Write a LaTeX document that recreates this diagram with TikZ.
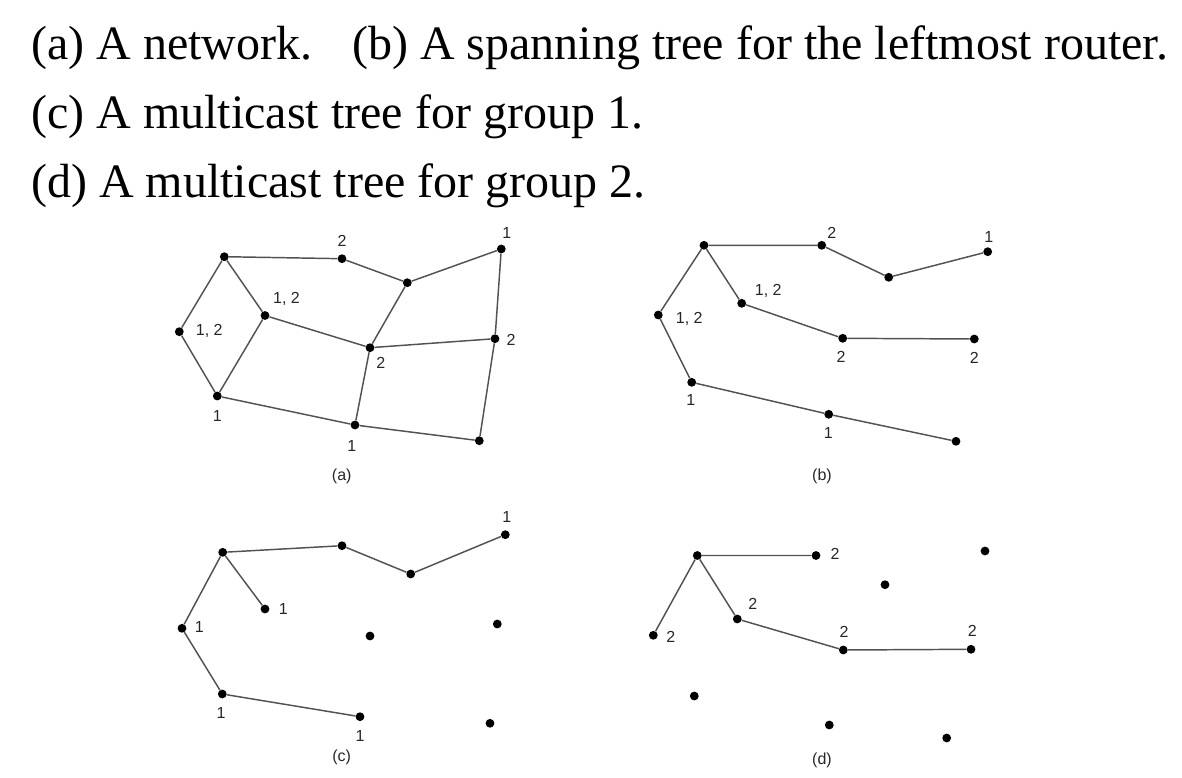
\documentclass[tikz,border=0pt]{standalone}
\usepackage{fontspec}
\setmainfont{Liberation Serif}
\newfontfamily\labfont{Liberation Sans}
\begin{document}
\begin{tikzpicture}[x=0.75pt,y=-0.75pt,
  dot/.style={circle,fill=black,inner sep=0pt,minimum size=6.6pt},
  edge/.style={draw=black!68,line width=1.1pt},
  lab/.style={font=\labfont\fontsize{12}{14}\selectfont,inner sep=0pt,text depth=0pt,text=black!85},
  sublab/.style={font=\labfont\fontsize{12}{14}\selectfont,inner sep=0pt,text=black!85},
  titletext/.style={font=\fontsize{36}{40}\selectfont,inner sep=0pt,anchor=base west}]
\useasboundingbox (0,0) rectangle (1182,778);
% titles
\node[titletext] (t1) at (31,59.5) {(a) A network.};
\node[titletext] (t2) at (352,59.5) {(b) A spanning tree for the leftmost router.};
\node[titletext] (t3) at (31,128.5) {(c) A multicast tree for group 1.};
\node[titletext] (t4) at (31,197) {(d) A multicast tree for group 2.};
% panel (a)
\node[dot] (aA) at (179.3,331.7) {};
\node[dot] (aB) at (224.3,256.7) {};
\node[dot] (aC) at (265,315.5) {};
\node[dot] (aD) at (217.3,396) {};
\node[dot] (aE) at (342,258.7) {};
\node[dot] (aF) at (407.3,282.7) {};
\node[dot] (aG) at (501.3,249) {};
\node[dot] (aH) at (370,347.7) {};
\node[dot] (aI) at (495,338.7) {};
\node[dot] (aJ) at (355,425) {};
\node[dot] (aK) at (479.3,440.7) {};
\draw[edge] (aA)--(aB) (aA)--(aD) (aB)--(aE) (aB)--(aC) (aC)--(aD) (aC)--(aH)
  (aE)--(aF) (aF)--(aG) (aF)--(aH) (aG)--(aI) (aH)--(aI) (aH)--(aJ) (aD)--(aJ)
  (aJ)--(aK) (aI)--(aK);
\node[lab] (la1) at (342,240.7) {2};
\node[lab] (la2) at (506.7,232.7) {1};
\node[lab] (la3) at (286.5,297.5) {1, 2};
\node[lab] (la4) at (209.3,330) {1, 2};
\node[lab] (la5) at (511,340) {2};
\node[lab] (la6) at (380.7,363.3) {2};
\node[lab] (la7) at (217.3,416) {1};
\node[lab] (la8) at (351.7,446) {1};
\node[sublab] (ca) at (341.7,476.7) {(a)};
% panel (b)
\node[dot] (bA) at (658.3,315) {};
\node[dot] (bB) at (704,245.3) {};
\node[dot] (bC) at (741.7,303.3) {};
\node[dot] (bD) at (691.7,382.3) {};
\node[dot] (bE) at (821.7,245.3) {};
\node[dot] (bF) at (888.7,277.3) {};
\node[dot] (bG) at (987.7,251.7) {};
\node[dot] (bH) at (842.7,338.3) {};
\node[dot] (bI) at (974.3,339) {};
\node[dot] (bJ) at (828.7,414.3) {};
\node[dot] (bK) at (956,441.3) {};
\draw[edge] (bA)--(bB) (bA)--(bD) (bB)--(bE) (bE)--(bF) (bF)--(bG) (bB)--(bC)
  (bC)--(bH) (bH)--(bI) (bD)--(bJ) (bJ)--(bK);
\node[lab] (lb1) at (831.7,232.7) {2};
\node[lab] (lb2) at (988.7,236.7) {1};
\node[lab] (lb3) at (768.3,290) {1, 2};
\node[lab] (lb4) at (689.3,317.7) {1, 2};
\node[lab] (lb5) at (841,356.7) {2};
\node[lab] (lb6) at (974.3,357.7) {2};
\node[lab] (lb7) at (690.7,400) {1};
\node[lab] (lb8) at (828.3,433.3) {1};
\node[sublab] (cb) at (822,476) {(b)};
% panel (c)
\node[dot] (cA) at (182,628.3) {};
\node[dot] (cB) at (222.7,552.3) {};
\node[dot] (cC) at (265,609) {};
\node[dot] (cD) at (222.3,694) {};
\node[dot] (cE) at (342,545.7) {};
\node[dot] (cF) at (410.7,574) {};
\node[dot] (cG) at (505.3,534.7) {};
\node[dot] (cH) at (370,636) {};
\node[dot] (cI) at (497.3,624) {};
\node[dot] (cJ) at (360,716.7) {};
\node[dot] (cK) at (490,723.3) {};
\draw[edge] (cA)--(cB) (cB)--(cC) (cB)--(cE) (cE)--(cF) (cF)--(cG) (cA)--(cD) (cD)--(cJ);
\node[lab] (lc1) at (283.3,608.7) {1};
\node[lab] (lc2) at (199.3,627) {1};
\node[lab] (lc3) at (506.7,517.3) {1};
\node[lab] (lc4) at (221,713.3) {1};
\node[lab] (lc5) at (360,736) {1};
\node[sublab] (cc) at (341.7,757.3) {(c)};
% panel (d)
\node[dot] (dA) at (653.3,635.3) {};
\node[dot] (dB) at (697.3,555.5) {};
\node[dot] (dC) at (737.3,619) {};
\node[dot] (dD) at (694.3,696) {};
\node[dot] (dE) at (816,555.5) {};
\node[dot] (dF) at (885,584.7) {};
\node[dot] (dG) at (985,551) {};
\node[dot] (dH) at (843.3,650) {};
\node[dot] (dI) at (971,649.3) {};
\node[dot] (dJ) at (829.3,725) {};
\node[dot] (dK) at (946.7,738) {};
\draw[edge] (dA)--(dB) (dB)--(dE) (dB)--(dC) (dC)--(dH) (dH)--(dI);
\node[lab] (ld1) at (835,554.3) {2};
\node[lab] (ld2) at (752.7,604.3) {2};
\node[lab] (ld3) at (670.7,636.7) {2};
\node[lab] (ld4) at (844,631.7) {2};
\node[lab] (ld5) at (972.3,631) {2};
\node[sublab] (cd) at (822,760) {(d)};
\end{tikzpicture}
\end{document}
